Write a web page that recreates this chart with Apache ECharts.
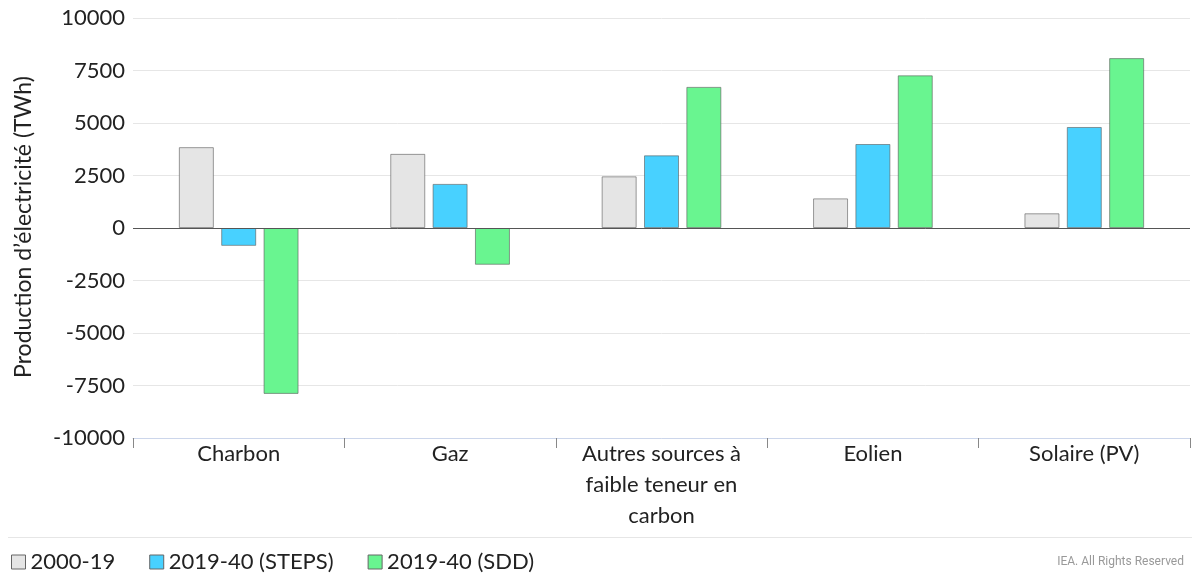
<!DOCTYPE html>
<html>
<head>
<meta charset="utf-8">
<script src="https://cdn.jsdelivr.net/npm/echarts@6/dist/echarts.min.js"></script>
<style>
html,body{margin:0;padding:0;background:#fff;}
#chart{width:1192px;height:576px;}
</style>
</head>
<body>
<div id="chart"></div>
<script>
const categories = ['Charbon', 'Gaz', 'Autres sources à\nfaible teneur en\ncarbon', 'Eolien', 'Solaire (PV)'];
const seriesNames = ['2000-19', '2019-40 (STEPS)', '2019-40 (SDD)'];
const hist = [3850, 3530, 2460, 1410, 700];
const steps = [-850, 2100, 3460, 4000, 4810];
const sdd = [-7900, -1750, 6720, 7270, 8090];
const yTicks = [-10000, -7500, -5000, -2500, 0, 2500, 5000, 7500, 10000];

const colors = ['#e5e5e5', '#48d1ff', '#69f590'];
const font = 'Lato, "Open Sans", sans-serif';

const chart = echarts.init(document.getElementById('chart'));
const mk = (name, data, i) => ({
  name: name,
  type: 'bar',
  data: data,
  barWidth: 35,
  barGap: '21%',
  itemStyle: { color: colors[i], borderColor: 'rgba(90,90,90,0.6)', borderWidth: 1 },
  emphasis: { disabled: true }
});
const s = [mk(seriesNames[0], hist, 0), mk(seriesNames[1], steps, 1), mk(seriesNames[2], sdd, 2)];
s[0].markLine = {
  silent: true, symbol: 'none', label: { show: false },
  lineStyle: { color: '#555', width: 1, type: 'solid' },
  data: [{ yAxis: 0 }]
};

chart.setOption({
  animation: false,
  textStyle: { fontFamily: font },
  grid: { left: 133, right: 2, top: 18, bottom: 138, containLabel: false },
  legend: {
    left: 6, bottom: -2,
    itemWidth: 14, itemHeight: 14, itemGap: 34,
    icon: 'rect',
    textStyle: { fontSize: 22, color: '#222', fontFamily: font },
    data: seriesNames.map((n, i) => ({ name: n, itemStyle: { color: colors[i], borderColor: '#666', borderWidth: 1 } }))
  },
  xAxis: {
    type: 'category',
    data: categories,
    axisLine: { onZero: false, lineStyle: { color: '#ccd6eb', width: 1 } },
    axisTick: { show: true, length: 10, lineStyle: { color: '#888' } },
    axisLabel: { fontSize: 22, color: '#222', lineHeight: 31, margin: 0, interval: 0, fontFamily: font }
  },
  yAxis: {
    type: 'value',
    min: yTicks[0], max: yTicks[yTicks.length - 1], interval: 2500,
    axisLine: { show: false },
    axisTick: { show: false },
    splitLine: { lineStyle: { color: '#e6e6e6', width: 1 } },
    axisLabel: { fontSize: 22, color: '#222', margin: 8, fontFamily: font, formatter: v => String(v) }
  },
  graphic: [
    {
      type: 'text',
      x: 12, y: 227,
      rotation: Math.PI / 2,
      style: {
        text: 'Production d’électricité (TWh)',
        fontSize: 23, fill: '#222', fontFamily: font,
        textAlign: 'center', textVerticalAlign: 'top'
      }
    },
    {
      type: 'line',
      shape: { x1: 8, y1: 537.5, x2: 1192, y2: 537.5 },
      style: { stroke: '#e6e6e6', lineWidth: 1 }
    },
    {
      type: 'text',
      right: 8, top: 556,
      style: { text: 'IEA. All Rights Reserved', fontSize: 12, fill: '#999', fontFamily: 'Roboto, sans-serif' }
    }
  ],
  series: s
});
</script>
</body>
</html>
